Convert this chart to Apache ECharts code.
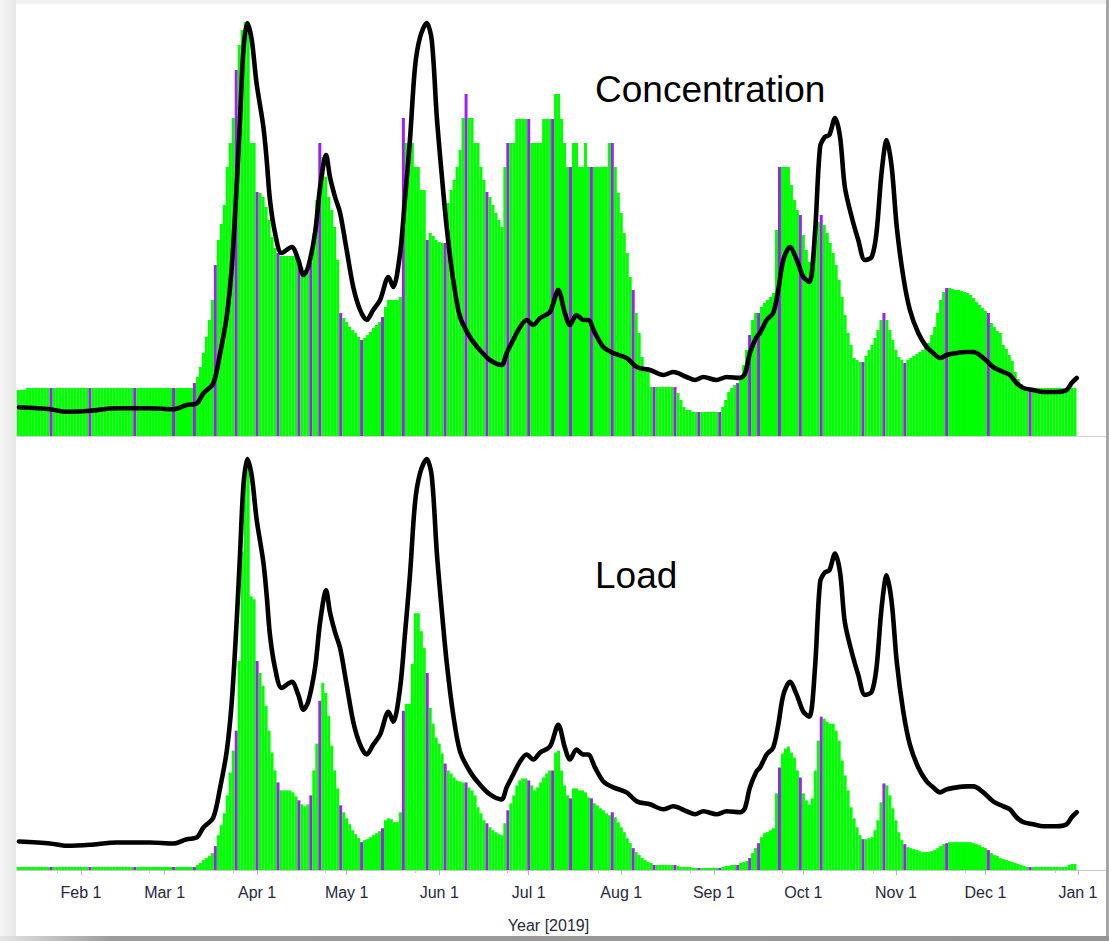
<!DOCTYPE html>
<html>
<head>
<meta charset="utf-8">
<script src="https://cdn.jsdelivr.net/npm/echarts@6/dist/echarts.min.js"></script>
<style>
html,body{margin:0;padding:0;background:#fff;}
#c{width:1109px;height:941px;}
</style>
</head>
<body>
<div id="c"></div>
<script>
// ---- data (day numbers: 0 = Jan 1 2019); each row = 7 consecutive days ----
const startDay = 10;
const concentration = [
 46,46,46,48,48,48,48,      // d10
 48,48,48,48,48,48,48,      // d17
 48,48,48,48,48,48,48,      // d24
 48,48,48,48,48,48,48,      // d31
 48,48,48,48,48,48,48,      // d38
 48,48,48,48,48,48,48,      // d45
 48,48,48,48,48,48,48,      // d52
 48,48,48,48,48,48,48,      // d59
 48,48,48,53,59,69,83,      // d66
 99,116,136,171,196,212,231,   // d73
 269,293,318,366,391,406,414,  // d80
 414,293,293,244,243,239,229,  // d87
 216,199,188,183,180,180,180,  // d94
 180,180,180,176,169,163,164,  // d101
 173,203,236,293,279,259,239,  // d108
 226,209,176,123,118,114,109,  // d115
 106,103,99,96,98,101,104,     // d122
 108,111,114,119,129,136,136,  // d129
 136,136,139,318,293,293,293,  // d136
 269,269,246,246,196,203,200,  // d143
 196,194,193,193,233,246,256,  // d150
 269,286,318,342,318,318,293,  // d157
 293,269,256,244,239,231,223,  // d164
 216,209,269,293,293,293,317,  // d171
 317,317,317,317,293,293,293,  // d178
 293,317,317,317,317,342,342,  // d185
 317,293,269,269,293,293,269,  // d192
 269,293,269,269,269,269,269,  // d199
 269,269,293,293,269,243,223,  // d206
 203,183,159,146,123,103,79,   // d213
 69,69,49,49,49,49,49,         // d220
 49,49,49,49,43,36,29,         // d227
 26,26,24,24,24,24,24,         // d234
 24,24,24,24,24,29,36,         // d241
 44,48,51,53,61,71,86,         // d248
 101,116,123,123,129,133,136,  // d255
 139,143,206,269,269,269,269,  // d262
 251,236,226,221,201,186,174,  // d269
 181,196,214,221,211,203,193,  // d276
 183,171,156,139,121,103,91,   // d283
 78,76,74,74,80,86,91,         // d290
 98,106,116,123,116,106,96,    // d297
 86,79,76,73,76,78,80,         // d304
 82,84,86,89,93,101,109,       // d311
 123,136,144,148,148,147,146,  // d318
 146,145,144,143,141,138,134,  // d325
 131,128,125,123,113,109,105,  // d332
 103,91,87,81,75,64,57,        // d339
 52,50,48,48,48,48,48,         // d346
 48,48,48,48,48,48,48,         // d353
 48,48,48,48,48            // d360
];
const load = [
 3,3,3,3,3,3,3,      // d10
 3,3,3,3,3,3,3,      // d17
 3,3,3,3,3,3,3,      // d24
 3,3,3,3,3,3,3,      // d31
 3,3,3,3,3,3,3,      // d38
 3,3,3,3,3,3,3,      // d45
 3,3,3,3,3,3,3,      // d52
 3,3,3,3,3,3,3,      // d59
 3,3,3,3,5,7,10,     // d66
 12,14,17,24,35,45,57,        // d73
 75,98,120,140,210,320,395,   // d80
 410,275,272,210,198,185,165, // d87
 140,118,100,88,80,80,80,     // d94
 80,78,74,70,66,64,66,        // d101
 75,100,127,170,188,178,155,  // d108
 125,100,82,65,58,52,46,      // d115
 40,36,32,28,30,31,33,        // d122
 35,37,39,42,50,52,51,        // d129
 48,48,58,160,167,167,207,    // d136
 258,258,240,223,198,163,147, // d143
 133,127,117,107,100,97,93,   // d150
 90,89,88,88,83,80,75,        // d157
 63,57,50,47,43,40,38,        // d164
 36,35,47,60,67,75,85,        // d171
 90,92,92,90,85,80,83,        // d178
 88,93,97,100,100,118,120,    // d185
 100,85,75,72,82,82,80,       // d192
 80,78,73,72,67,65,62,        // d199
 60,57,55,58,53,48,43,        // d206
 38,32,27,22,18,15,12,        // d213
 10,8,7,5,5,5,5,              // d220
 5,5,5,5,4,3,3,               // d227
 3,3,2,2,2,2,2,               // d234
 2,2,2,2,2,3,4,               // d241
 4,5,5,5,7,8,9,               // d248
 12,17,22,27,33,37,38,        // d255
 40,42,77,103,117,122,124,    // d262
 118,113,100,93,77,70,66,     // d269
 72,100,130,154,152,149,147,  // d276
 147,140,130,110,95,80,63,    // d283
 52,43,35,31,31,32,33,        // d290
 40,50,68,87,85,75,62,        // d297
 50,38,30,26,23,22,21,        // d304
 20,19,18,18,18,19,20,        // d311
 22,24,26,27,28,28,28,        // d318
 28,28,28,28,28,27,26,        // d325
 25,23,22,20,17,15,14,        // d332
 12,11,10,9,8,7,6,            // d339
 5,4,3,3,3,3,3,               // d346
 3,3,3,3,3,3,3,               // d353
 3,3,5,6,6                    // d360
];
const sampleDays = [21,34,49,62,69,76,83,90,97,104,108,111,118,125,132,139,147,153,160,167,174,181,189,195,202,209,216,223,230,238,245,251,255,258,265,272,279,293,300,307,321,335,349];
const flowDays = [10.2,20.6,26.2,34,42.9,54.1,61.9,66.4,69.8,72,75.3,77.6,79.8,81.5,83.2,84.3,85.4,86.7,88.2,89.8,92.1,93.2,94.3,96,98.2,101.6,103.8,105.5,107.1,109.4,111.1,113.1,114.4,116.1,117.8,120,122.2,124.5,126.7,128.9,131.2,134,135.6,137.9,139.5,141.2,142.9,144.6,146.8,148.5,150.2,151.8,153.5,155.7,158,161.3,164.6,168,171.9,173.6,175.8,178.1,180.3,182.5,184.8,188.1,190.9,193.1,194.8,197,199.3,200.9,203.2,206,209.3,213.8,217.2,221.6,226.1,229.4,233.9,236.7,239.5,243.9,247.3,251.8,253.4,255.1,257.3,258.5,260.7,262.9,264.6,266.3,268.5,270.8,273,275,276.9,278.6,280.2,281.7,283.6,285.3,286.9,289.2,291.4,293.6,295.9,297.5,299.2,300.9,302.6,304.3,306.5,308.7,311.5,314.3,316.5,318.8,321,324.4,327.7,330,333.3,336.6,340,342.2,344.4,346.7,350,353.4,357.9,361.2,362.9,364.6];
const flowValues = [28.7,26.7,24.3,25.3,27.7,27.7,26.7,31,32.7,42.7,52.7,82.7,119,169,253,319,386,413,396,353,309,276,236,203,183,189,176,161,169,203,249,281,259,239,223,186,149,126,116,126,136,159,149,183,236,296,369,399,413,396,319,263,209,156,119,99,86,76,71,83,96,109,116,111,118,124,146,123,111,121,116,116,103,89,83,78,69,66,61,64,59,56,59,56,59,58,62,83,99,103,116,123,146,176,189,176,159,154,203,289,299,301,318,299,249,219,196,176,179,203,263,296,269,209,159,126,103,89,83,78,81,83,84,84,78,69,64,61,53,48,46,44,44,46,53,58];
const monthTickDays = [31,59,90,120,151,181,212,243,273,304,334,365];
const monthTickLabels = ['Feb 1','Mar 1','Apr 1','May 1','Jun 1','Jul 1','Aug 1','Sep 1','Oct 1','Nov 1','Dec 1','Jan 1'];
const minorTickDays = [22.9,53.8,81.9,112.7,142.9,173.7,204.2,235,266,296.3,327.1,357.3];
const xAxisTitle = 'Year [2019]';
const panelTitles = ['Concentration','Load'];

// ---- styling ----
const GREEN = '#00ff00', PURPLE = '#a020f0';
const FONT = '"Liberation Sans", Arial, Helvetica, sans-serif';
const sampleSet = new Set(sampleDays);
const barData = arr => arr.map((v, i) => [startDay + i, v]);
const flowData = flowDays.map((d, i) => [d, flowValues[i]]);
const X_MIN = 9.55, X_MAX = 374.4;

const chart = echarts.init(document.getElementById('c'), null, {renderer: 'svg'});

function barSeries(idx, arr) {
  return {
    type: 'bar', xAxisIndex: idx, yAxisIndex: idx, data: barData(arr),
    barWidth: 3.0, silent: true, z: 2,
    itemStyle: {color: p => sampleSet.has(p.data[0]) ? PURPLE : GREEN}
  };
}
function lineSeries(idx) {
  return {
    type: 'line', xAxisIndex: idx, yAxisIndex: idx, data: flowData,
    symbol: 'none', smooth: 0.3, silent: true, z: 3,
    lineStyle: {color: '#000', width: 4.6, cap: 'round', join: 'round'}
  };
}

const option = {
  animation: false,
  backgroundColor: '#fff',
  grid: [
    {left: 17, top: 20, width: 1089, height: 416, containLabel: false, outerBoundsMode: 'none'},
    {left: 17, top: 456, width: 1089, height: 414, containLabel: false, outerBoundsMode: 'none'}
  ],
  xAxis: [
    {gridIndex: 0, type: 'value', position: 'bottom', min: X_MIN, max: X_MAX,
     axisLine: {show: true, lineStyle: {color: '#d2d2d2', width: 1}},
     axisTick: {show: false}, axisLabel: {show: false}, splitLine: {show: false}},
    {gridIndex: 1, type: 'value', position: 'bottom', min: X_MIN, max: X_MAX,
     axisLine: {show: true, lineStyle: {color: '#c8c8c8', width: 1}},
     axisTick: {show: true, customValues: monthTickDays, length: 5, lineStyle: {color: '#b5b5b5'}},
     axisLabel: {show: true, customValues: monthTickDays, margin: 14, color: '#262840',
       fontSize: 16, fontFamily: FONT,
       formatter: v => { const i = monthTickDays.indexOf(v); return i >= 0 ? monthTickLabels[i] : ''; }},
     splitLine: {show: false}},
    {gridIndex: 1, type: 'value', position: 'bottom', offset: 0, min: X_MIN, max: X_MAX,
     axisLine: {show: false},
     axisTick: {show: true, customValues: minorTickDays, length: 3, lineStyle: {color: '#c8c8c8'}},
     axisLabel: {show: false}, splitLine: {show: false}}
  ],
  yAxis: [
    {gridIndex: 0, type: 'value', min: 0, max: 416, show: false},
    {gridIndex: 1, type: 'value', min: 0, max: 416, show: false}
  ],
  series: [barSeries(0, concentration), lineSeries(0), barSeries(1, load), lineSeries(1)],
  graphic: [
    {type: 'rect', silent: true, z: -1, shape: {x: 0, y: 0, width: 16, height: 941},
     style: {fill: new echarts.graphic.LinearGradient(0, 0, 1, 0, [{offset: 0, color: '#f6f6f6'}, {offset: 1, color: '#e6e6e6'}])}},
    {type: 'rect', silent: true, z: -1, shape: {x: 16, y: 0, width: 1093, height: 4}, style: {fill: '#f1f1f1'}},
    {type: 'rect', silent: true, z: 10, shape: {x: 1106, y: 0, width: 3, height: 941}, style: {fill: '#a6a6a6'}},
    {type: 'rect', silent: true, z: 10, shape: {x: 0, y: 936, width: 1109, height: 5},
     style: {fill: new echarts.graphic.LinearGradient(0, 0, 1, 0, [{offset: 0, color: '#e4e4e4'}, {offset: 0.1, color: '#9c9c9c'}, {offset: 1, color: '#959595'}])}},
    {type: 'text', silent: true, z: 10, style: {text: panelTitles[0], x: 595, y: 89, fill: '#000',
      font: '37px ' + FONT, align: 'left', verticalAlign: 'middle'}},
    {type: 'text', silent: true, z: 10, style: {text: panelTitles[1], x: 595, y: 575, fill: '#000',
      font: '37px ' + FONT, align: 'left', verticalAlign: 'middle'}},
    {type: 'text', silent: true, z: 10, style: {text: xAxisTitle, x: 548.5, y: 925, fill: '#262840',
      font: '16px ' + FONT, align: 'center', verticalAlign: 'middle'}}
  ]
};
chart.setOption(option);
</script>
</body>
</html>
